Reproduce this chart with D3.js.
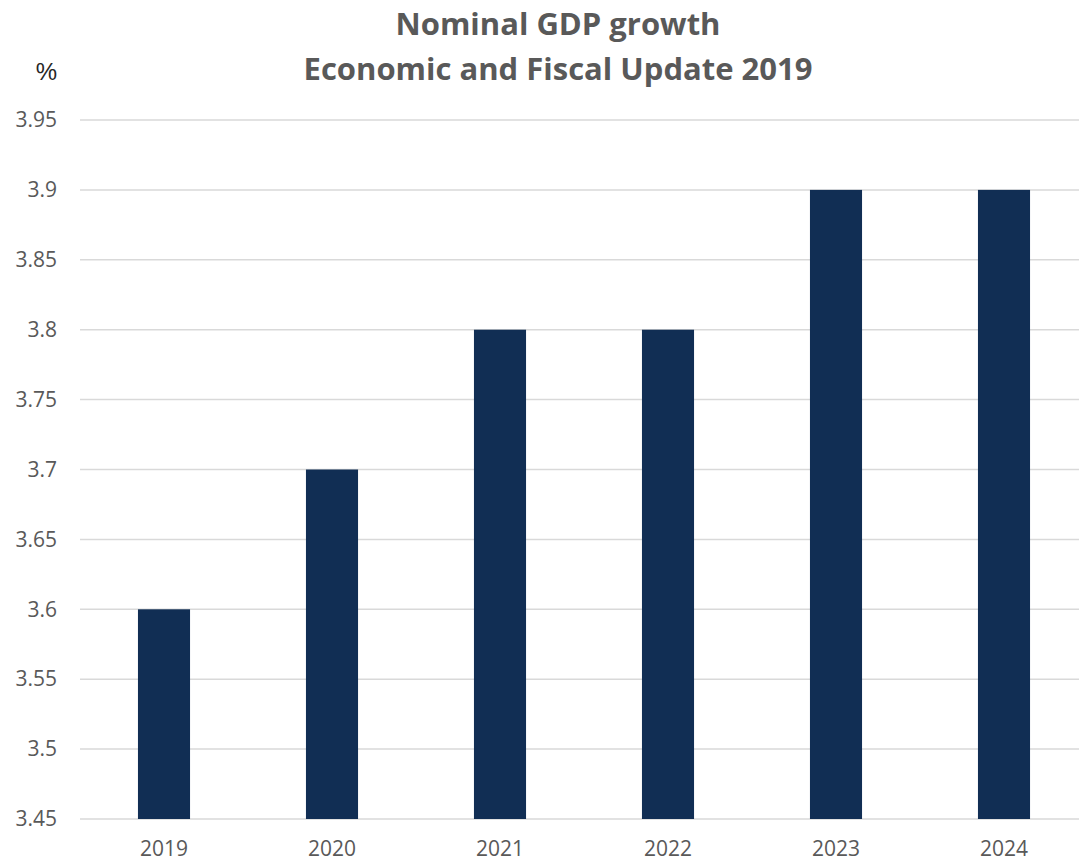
<!DOCTYPE html>
<html>
<head>
<meta charset="utf-8">
<script src="https://cdn.jsdelivr.net/npm/d3@7"></script>
<style>
  body { margin: 0; background: #fff; }
  svg text { font-family: "Open Sans", "Liberation Sans", sans-serif; }
</style>
</head>
<body>
<svg id="canvas" width="1079" height="861"></svg>
<script>
// chart data
let years = ['2019', '2020', '2021', '2022', '2023', '2024']
let growth = [3.6, 3.7, 3.8, 3.8, 3.9, 3.9]
let yTicks = [3.45, 3.5, 3.55, 3.6, 3.65, 3.7, 3.75, 3.8, 3.85, 3.9, 3.95]
let titleLines = ['Nominal GDP growth', 'Economic and Fiscal Update 2019']

let canvas = d3.select('#canvas')

let xScale = d3.scaleBand()
    .domain(years)
    .range([80, 1088])
    .paddingInner(0.69)
    .paddingOuter(0.345)

let yScale = d3.scaleLinear()
    .domain([3.45, 3.95])
    .range([819, 120])

// gridlines
canvas.append('g')
    .selectAll('line')
    .data(yTicks)
    .enter()
    .append('line')
    .attr('x1', 80)
    .attr('x2', 1079)
    .attr('y1', (d) => yScale(d))
    .attr('y2', (d) => yScale(d))
    .attr('stroke', '#d9d9d9')
    .attr('stroke-width', 1.5)

// bars
canvas.append('g')
    .selectAll('rect')
    .data(years)
    .enter()
    .append('rect')
    .attr('x', (d) => xScale(d))
    .attr('width', xScale.bandwidth())
    .attr('y', (d, i) => yScale(growth[i]))
    .attr('height', (d, i) => yScale(3.45) - yScale(growth[i]))
    .attr('fill', '#112e54')

// y axis labels
let yAxis = d3.axisLeft(yScale)
    .tickValues(yTicks)
    .tickFormat((d) => String(+d.toFixed(2)))
    .tickSize(0)
    .tickPadding(0)

canvas.append('g')
    .attr('transform', 'translate(57,0)')
    .call(yAxis)
    .call((g) => g.select('.domain').remove())
    .attr('font-size', 21)
    .selectAll('text')
    .attr('fill', '#595959')
    .style('font-family', '"Open Sans", sans-serif')

// x axis labels
let xAxis = d3.axisBottom(xScale)
    .tickSize(0)
    .tickPadding(0)

canvas.append('g')
    .attr('transform', 'translate(0,841)')
    .call(xAxis)
    .call((g) => g.select('.domain').remove())
    .attr('font-size', 21)
    .selectAll('text')
    .attr('fill', '#595959')
    .style('font-family', '"Open Sans", sans-serif')

// unit label
canvas.append('text')
    .text('%')
    .attr('x', 57)
    .attr('y', 80)
    .attr('text-anchor', 'end')
    .style('font-size', '24px')
    .style('font-family', '"Liberation Sans", sans-serif')
    .attr('fill', '#262626')

// title
canvas.append('g')
    .selectAll('text')
    .data(titleLines)
    .enter()
    .append('text')
    .text((d) => d)
    .attr('x', 558)
    .attr('y', (d, i) => 35 + i * 45)
    .attr('text-anchor', 'middle')
    .attr('font-size', 31)
    .attr('font-weight', 'bold')
    .attr('fill', '#595959')
</script>
</body>
</html>
